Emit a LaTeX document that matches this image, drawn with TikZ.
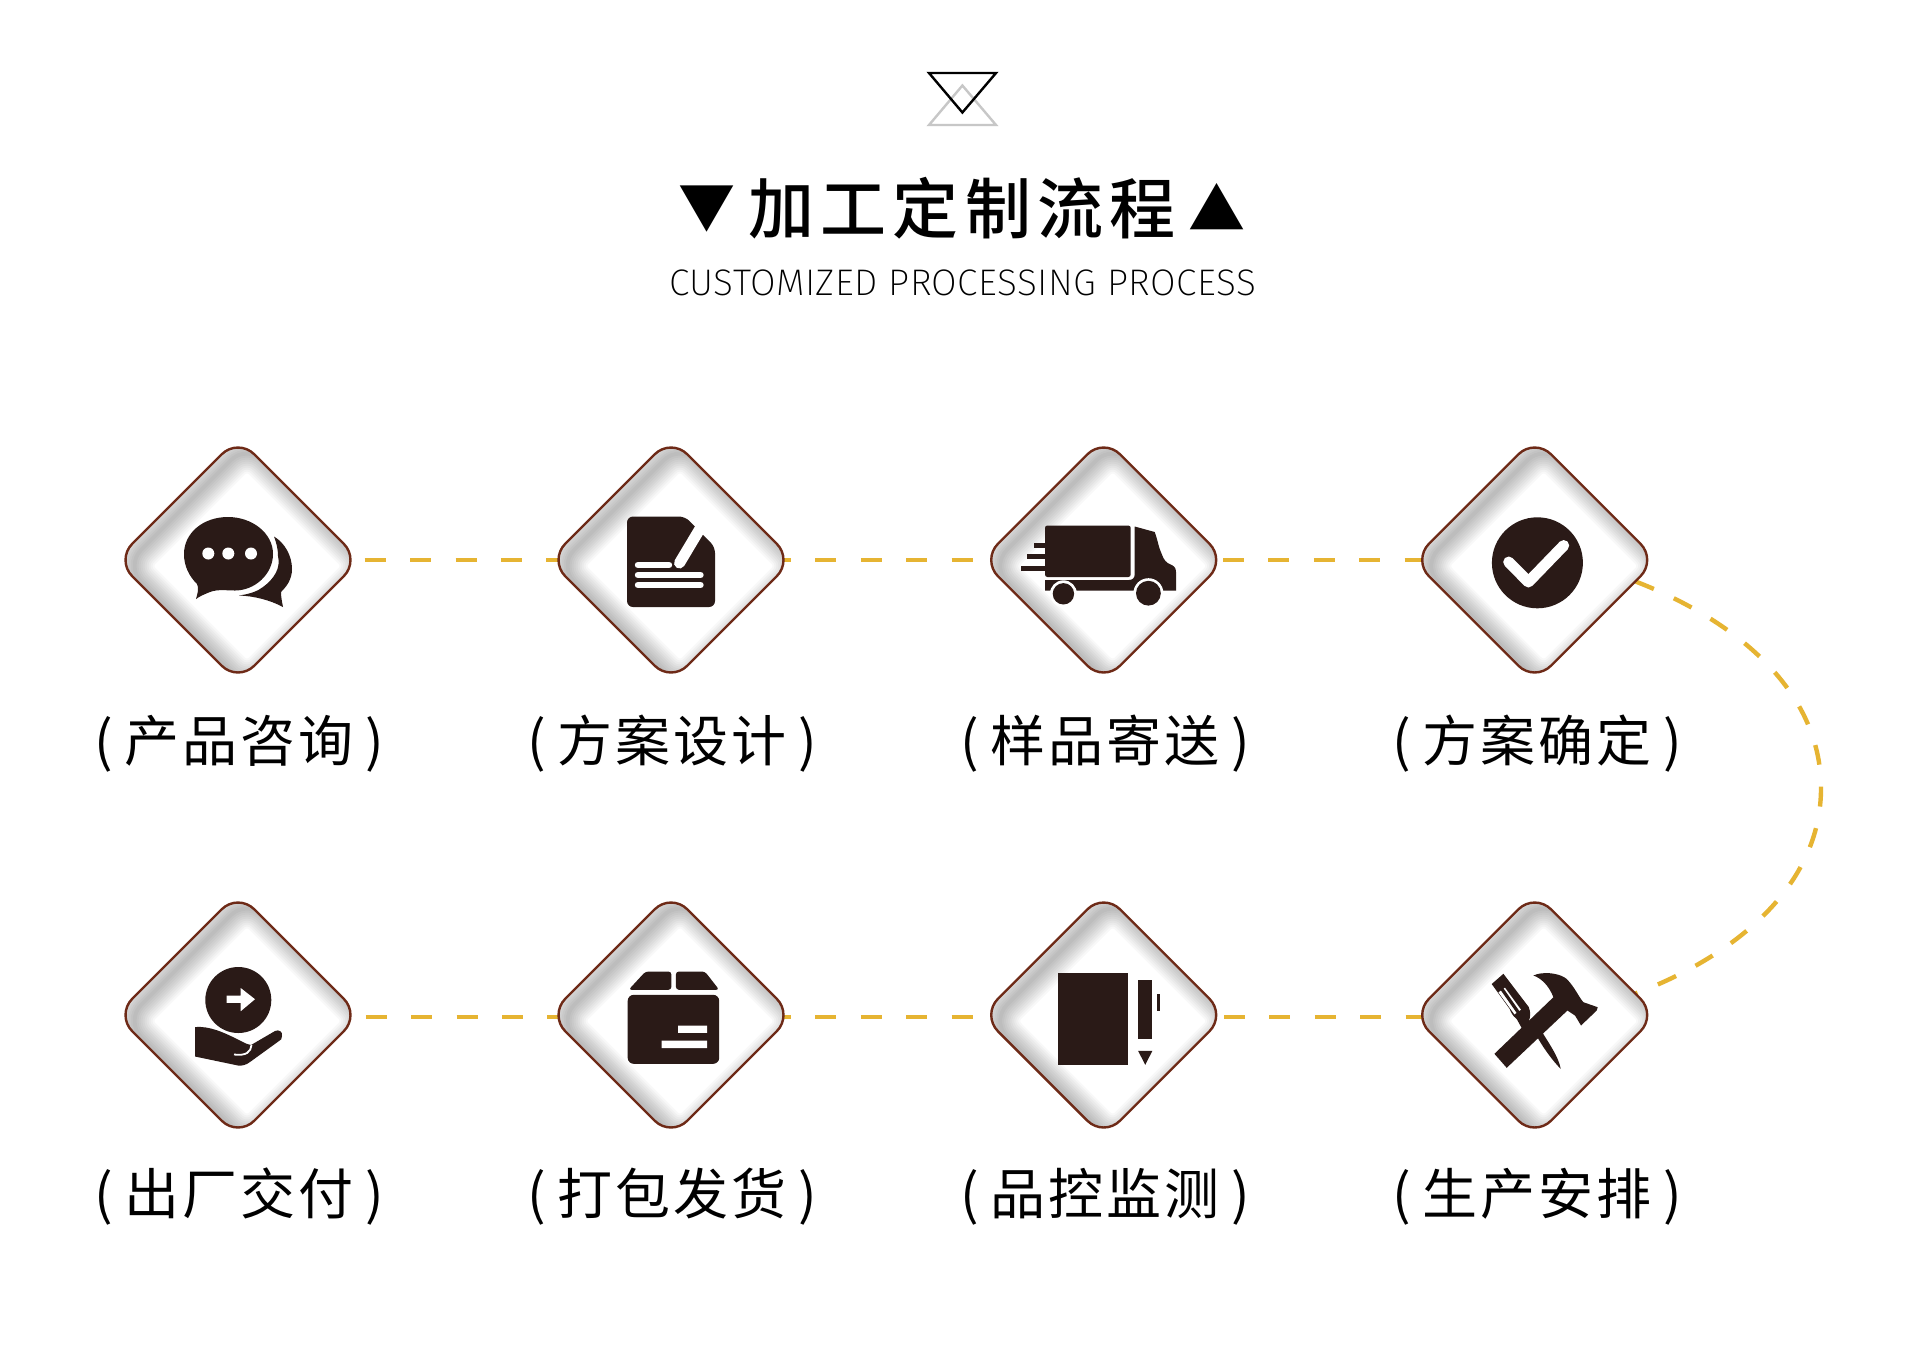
\documentclass[tikz,border=0pt]{standalone}
\usepackage{fontspec}
\usetikzlibrary{shapes.geometric,backgrounds,calc}
\setmainfont{Liberation Sans}
\newfontfamily\cjklabel[LetterSpace=5.5]{Noto Sans CJK SC}
\newfontfamily\cjktitle[LetterSpace=9.3]{Noto Sans CJK SC Medium}
\newfontfamily\cjktri{Noto Sans CJK SC}
\newfontfamily\thinlatin[LetterSpace=1.3]{Fira Sans ExtraLight}
\definecolor{dbrown}{HTML}{6E2A17}
\definecolor{dash}{HTML}{E6B432}
\definecolor{ink}{HTML}{2A1A17}
\tikzset{
  diabox/.style={diamond,aspect=1,draw=dbrown,line width=1.2pt,fill=white,
    minimum width=122pt,minimum height=122pt,inner sep=0pt,outer sep=0pt,
    rounded corners=11.5pt,
    path picture={
      \foreach \w in {2,4,...,20}{
        \draw[black,opacity=0.026,line width=\w pt,rounded corners=11.5pt,
          shift={(path picture bounding box.center)}]
          (9,6)++(0,-122)--++(122,122)--++(-122,122)--++(-122,-122)--cycle;
      }
    }},
  flow/.style={draw=dash,line width=2.2pt,dash pattern=on 10.5pt off 12.2pt},
  flowc/.style={draw=dash,line width=2.2pt,dash pattern=on 10pt off 11pt},
  lbl/.style={inner sep=0pt,font=\cjklabel\fontsize{27.5}{31}\selectfont,text=black},
  ic/.style={fill=ink,draw=none},
  ww/.style={draw=white,line cap=round,line join=round}
}
\newcommand{\lbltext}[1]{(\hspace{5.8pt}#1\hspace{5.8pt})}
\begin{document}
\begin{tikzpicture}[x=0.5pt,y=-0.5pt]
\path[use as bounding box] (0,0) rectangle (1920,1366);
\begin{scope}[on background layer]
\fill[white] (0,0) rectangle (1920,1366);
\end{scope}

% top emblem
\draw[draw=black!22,line width=1.2pt,line join=miter] (962.4,85.5) -- (996,125) -- (929,125) -- cycle;
\draw[draw=black,line width=1.2pt,line join=miter] (929,73) -- (996,73) -- (962.4,112.5) -- cycle;

% title
\node[inner sep=0pt] (title) at (962,208) {\cjktitle\fontsize{33}{37}\selectfont\raisebox{2.4pt}{\cjktri\fontsize{28.5}{32}\selectfont ▼}\hspace{6.5pt}加工定制流程\hspace{6.5pt}\raisebox{1.6pt}{\cjktri\fontsize{28.5}{32}\selectfont ▲}};
\node[inner sep=0pt] (subtitle) at (962.5,283) {\thinlatin\fontsize{18.5}{22}\selectfont CUSTOMIZED PROCESSING PROCESS};

% diamonds
\node[diabox] (d1) at (238,560) {};
\node[diabox] (d2) at (671,560) {};
\node[diabox] (d3) at (1103.7,560) {};
\node[diabox] (d4) at (1534.7,560) {};
\node[diabox] (d5) at (238,1015) {};
\node[diabox] (d6) at (671,1015) {};
\node[diabox] (d7) at (1103.7,1015) {};
\node[diabox] (d8) at (1534.7,1015) {};
\coordinate (bend) at (1821,788);

% connectors
\begin{scope}[on background layer]
\draw[flow] ([xshift=2.35pt]d1.east) -- ([xshift=4.5pt]d2.west);
\draw[flow] ([xshift=-11.5pt]d2.east) -- (d3.west);
\draw[flow] ([xshift=-1.35pt]d3.east) -- ([xshift=5pt]d4.west);
\draw[flow] ([xshift=2.9pt,yshift=-1pt]d5.east) -- ([xshift=4.5pt,yshift=-1pt]d6.west);
\draw[flow] ([xshift=-11.5pt,yshift=-1pt]d6.east) -- ([yshift=-1pt]d7.west);
\draw[flow] ([xshift=-0.85pt,yshift=-1pt]d7.east) -- ([xshift=5pt,yshift=-1pt]d8.west);
\draw[flowc] (d4.-12) .. controls (1735,620) and (1821,690) .. (bend)
   .. controls (1821,886) and (1735,956) .. (d8.12);
\end{scope}

% labels
\node[lbl] (l1) at (239,743.5) {\lbltext{产品咨询}};
\node[lbl] (l2) at (672,743.5) {\lbltext{方案设计}};
\node[lbl] (l3) at (1105,743.5) {\lbltext{样品寄送}};
\node[lbl] (l4) at (1537,743.5) {\lbltext{方案确定}};
\node[lbl] (l5) at (239,1196.5) {\lbltext{出厂交付}};
\node[lbl] (l6) at (672,1196.5) {\lbltext{打包发货}};
\node[lbl] (l7) at (1105,1196.5) {\lbltext{品控监测}};
\node[lbl] (l8) at (1537,1196.5) {\lbltext{生产安排}};

% icon 1: chat
\begin{scope}[shift={(d1.center)}]
\path[ic] (-42,39) .. controls (-40,32) and (-39,28) .. (-41,24)
 .. controls (-49,16) and (-54,6) .. (-54,-6)
 .. controls (-54,-27) and (-35,-43) .. (-10,-43)
 .. controls (14,-43) and (35,-27) .. (35,-6)
 .. controls (35,14) and (17,30.5) .. (-3,30.5)
 .. controls (-12,30.5) and (-20,29) .. (-28,32)
 .. controls (-33,34) and (-38,36) .. (-42,39) -- cycle;
\path[ic] (36,-23.5) .. controls (47,-17) and (54,-4) .. (54,9)
 .. controls (54,20) and (48,27) .. (43,32)
 .. controls (43,37) and (44,42) .. (45,47)
 .. controls (32,40) and (16,36) .. (1,35.5)
 .. controls (12,34) and (20,31) .. (25,27)
 .. controls (36,19) and (43,8) .. (40,-4)
 .. controls (40,-12) and (38,-18) .. (36,-23.5) -- cycle;
\fill[white] (-29.7,-6.5) circle (6) (-9.7,-6.5) circle (6) (13,-6.5) circle (6);
\end{scope}

% icon 2: document
\begin{scope}[shift={(d2.center)}]
\path[ic,rounded corners=3pt] (-44,-43.5) -- (14,-43.5) -- (44,-13) -- (44,47) -- (-44,47) -- cycle;
\draw[ww,line width=5.5pt] (8.5,3) -- (33,-38);
\draw[ww,line width=3.2pt] (-33,5) -- (-2,5) (-33,15) -- (29.5,15) (-33,25) -- (29.5,25);
\end{scope}

% icon 3: truck
\begin{scope}[shift={(d3.center)}]
\path[ic,rounded corners=1.2pt] (-58.7,-34.5) -- (27,-34.5) -- (27,17) -- (-58.7,17) -- cycle;
\path[ic] (-70,-17) rectangle (-58,-12);
\path[ic] (-77,-6) rectangle (-58,-1);
\path[ic] (-82.7,5.5) rectangle (-58,10.5);
\path[ic] (31,-33.5) -- (51,-28) .. controls (54,-20) and (55,-12) .. (58,-6)
  .. controls (60,0) and (63,3) .. (66,4) .. controls (70,6) and (72.3,7) .. (72.3,12)
  -- (72.3,30.5) -- (-58.7,30.5) -- (-58.7,20) -- (25,20)
  .. controls (29,20) and (31,18) .. (31,14) -- cycle;
\fill[white] (-40.3,33.8) circle (13.5) (44.7,33.2) circle (15);
\path[ic] (-40.3,33.8) circle (10.7);
\path[ic] (44.7,33.2) circle (12.4);
\end{scope}

% icon 4: check
\begin{scope}[shift={(d4.center)}]
\path[ic] (2.7,2.8) circle (45.5);
\draw[ww,line width=5.5pt] (-26,2) -- (-6.3,22) -- (29,-14.5);
\end{scope}

% icon 5: hand
\begin{scope}[shift={(d5.center)}]
\path[ic] (0.3,-15) circle (33);
\path[fill=white] (-11.3,-19.5) -- (2.7,-19.5) -- (2.7,-27) -- (17,-15.8) -- (2.7,-3.8) -- (2.7,-12.2) -- (-11.3,-12.2) -- cycle;
\path[ic] (-43,12) .. controls (-28,11) and (-15,17) .. (3,26)
  .. controls (6,28) and (9,29) .. (13,30) -- (37,16)
  .. controls (41,14) and (45,17) .. (44,21) .. controls (44,24) and (43,25) .. (41,26)
  -- (12,47) .. controls (8,50) and (4,51) .. (0,50.5) -- (-43,41.5) -- cycle;
\draw[white,line width=0.9pt] (13.5,30) .. controls (13,37) and (8,41) .. (-4,39.5);
\end{scope}

% icon 6: box
\begin{scope}[shift={(d6.center)}]
\path[ic,rounded corners=1.5pt] (-25.5,-43.5) -- (0.4,-43.5) -- (0.4,-25.2) -- (-42.4,-25.2) -- cycle;
\path[ic,rounded corners=1.5pt] (4.9,-43.5) -- (33.9,-43.5) -- (48.2,-25.2) -- (4.9,-25.2) -- cycle;
\path[ic,rounded corners=3pt] (-43.3,-20.2) -- (48.2,-20.2) -- (48.2,48.8) -- (-43.3,48.8) -- cycle;
\fill[white] (7,10.5) rectangle (36,17.8) (-9.4,25.5) rectangle (36,33.2);
\end{scope}

% icon 7: notebook and pen
\begin{scope}[shift={(d7.center)}]
\path[ic] (-45.4,-42.5) rectangle (24.3,49.8);
\path[ic] (34.4,-35.5) rectangle (48.7,23.8);
\path[ic] (34.4,35.8) -- (48.7,35.8) -- (41.5,49.8) -- cycle;
\path[ic] (53.3,-21.5) rectangle (56,-4.5);
\end{scope}

% icon 8: tools
\begin{scope}[shift={(d8.center)}]
\path[ic] (2,21) -- (8,18) .. controls (14,28) and (24,42) .. (26,53.8) .. controls (18,46) and (8,32) .. (2,21) -- cycle;
\path[ic] (-43,-31) -- (-31.3,-41.2) -- (-6,-8) .. controls (-4,-3) and (-4,2) .. (-6,6) -- (2,22) -- (-8,22) -- (-18,4) .. controls (-22,1) and (-24,-3) .. (-25,-6) -- cycle;
\draw[ww,line width=4pt,line cap=butt] (-33,-25) -- (-17,-3);
\draw[draw=ink,line width=1.6pt] (-33.5,-27) -- (-16,-2);
\path[ic] (-40.3,38.8) -- (18.7,-17.8) .. controls (14,-30) and (6,-37) .. (-1.3,-39.5)
  .. controls (4,-42) and (9,-42) .. (15,-41.8)
  .. controls (24,-41) and (30,-38) .. (32,-36)
  .. controls (40,-28) and (44,-18) .. (48.7,-12.8)
  -- (63,-7.8) -- (62,-4.5) -- (46.3,10.5) -- (40.3,0.5) -- (32.7,-4.5) -- (-28,52.8) -- cycle;
\end{scope}
\end{tikzpicture}
\end{document}
